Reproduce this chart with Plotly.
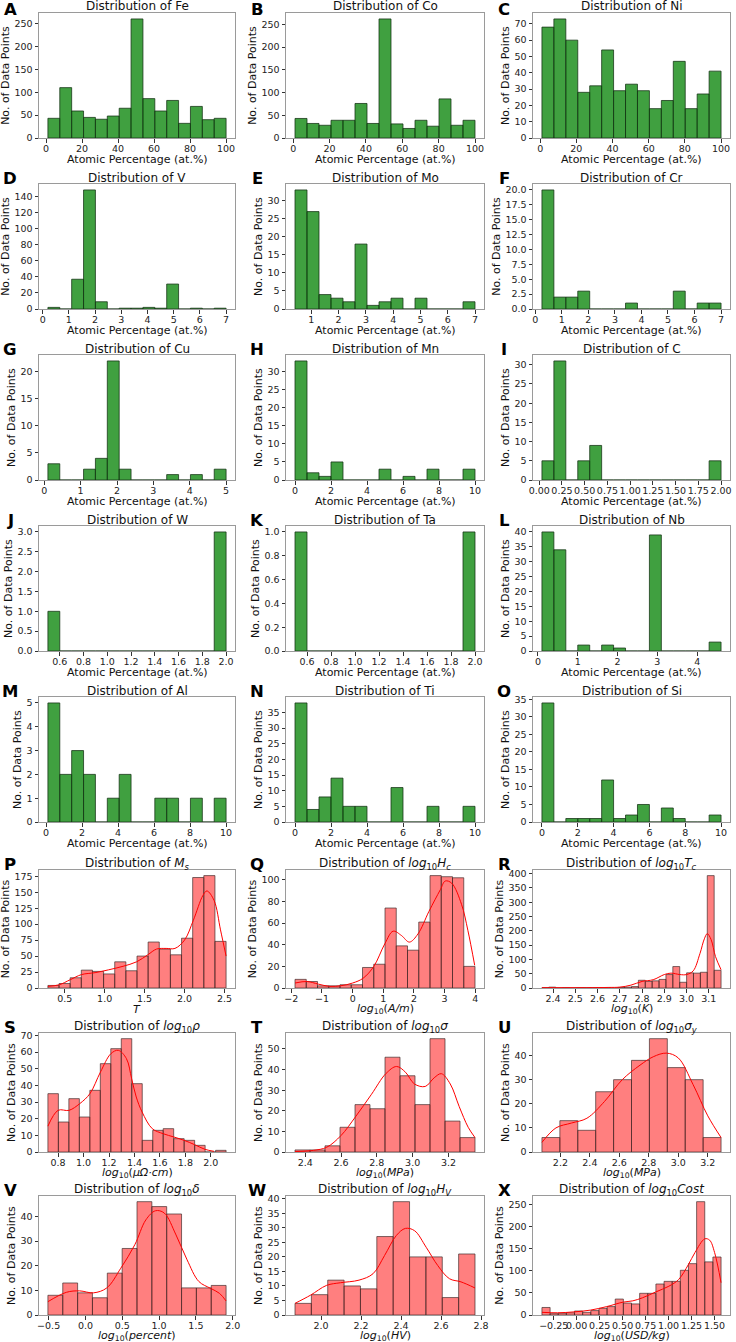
import numpy as np
import plotly.graph_objects as go

# ---------------- data ----------------
fe_counts = [43, 110, 59, 45, 41, 48, 65, 260, 86, 59, 82, 32, 69, 40, 43]
fe_range = [1, 100]
co_counts = [43, 32, 28, 39, 39, 76, 32, 262, 31, 21, 39, 26, 86, 28, 39]
co_range = [1, 100]
ni_counts = [68, 73, 60, 28, 32, 54, 29, 33, 29, 18, 23, 47, 18, 27, 41]
ni_range = [1, 100]
v_counts = [2, 0, 37, 148, 9, 0, 1, 1, 2, 1, 31, 0, 1, 0, 1]
v_range = [0.2, 7.0]
mo_counts = [33, 27, 4, 3, 2, 18, 1, 2, 3, 0, 3, 0, 0, 0, 2]
mo_range = [0.4, 7.0]
cr_counts = [20, 2, 2, 3, 0, 0, 0, 1, 0, 0, 0, 3, 0, 1, 1]
cr_range = [0.25, 7.0]
cu_counts = [3, 0, 0, 2, 4, 22, 2, 0, 0, 0, 1, 0, 1, 0, 2]
cu_range = [0.1, 5.0]
mn_counts = [33, 2, 1, 5, 0, 0, 0, 3, 0, 1, 0, 3, 0, 0, 3]
mn_range = [0.0, 10.0]
c_counts = [5, 31, 0, 5, 9, 0, 0, 0, 0, 0, 0, 0, 0, 0, 5]
c_range = [0.03, 2.0]
w_counts = [1, 0, 0, 0, 0, 0, 0, 0, 0, 0, 0, 0, 0, 0, 3]
w_range = [0.5, 2.0]
ta_counts = [1, 0, 0, 0, 0, 0, 0, 0, 0, 0, 0, 0, 0, 0, 1]
ta_range = [0.5, 2.0]
nb_counts = [40, 34, 0, 2, 0, 2, 1, 0, 0, 39, 0, 0, 0, 0, 3]
nb_range = [0.1, 4.6]
al_counts = [5, 2, 3, 2, 0, 1, 2, 0, 0, 1, 1, 0, 1, 0, 1]
al_range = [0.1, 10.0]
ti_counts = [38, 4, 8, 14, 5, 5, 0, 0, 11, 0, 0, 5, 0, 0, 5]
ti_range = [0.0, 10.0]
si_counts = [34, 0, 1, 1, 1, 12, 1, 2, 5, 0, 4, 1, 0, 0, 2]
si_range = [0.0, 10.0]

ms_counts = [4, 7, 16, 28, 26, 22, 41, 27, 50, 72, 61, 52, 78, 173, 176, 73]
ms_range = [0.29, 2.52]
ms_kde_x = [0.29, 0.43, 0.57, 0.71, 0.88, 1.05, 1.23, 1.40, 1.54, 1.65, 1.77, 1.88, 2.0, 2.11, 2.23, 2.28, 2.37, 2.45, 2.52]
ms_kde_y = [2.6, 5, 13, 21, 24, 28.5, 34, 41, 52, 61, 62, 62, 75, 106, 145, 152, 137, 91, 50]

hc_counts = [8, 6, 2, 2, 3, 3, 19, 22, 74, 39, 35, 61, 104, 103, 102, 20]
hc_range = [-1.88, 3.99]
hc_kde_x = [-1.88, -1.49, -1.12, -0.75, -0.38, 0.0, 0.34, 0.69, 1.05, 1.32, 1.59, 1.85, 2.13, 2.49, 2.86, 3.02, 3.23, 3.55, 3.76, 3.98]
hc_kde_y = [4.6, 6, 3.6, 1.5, 2.1, 4.6, 9, 20, 41, 52.6, 48.6, 42.5, 50, 71, 91, 99, 97, 77.5, 53, 21]

tc_counts = [1, 3, 0, 1, 0, 1, 1, 1, 1, 1, 0, 2, 3, 5, 27, 23, 25, 30, 47, 75, 20, 53, 52, 55, 393, 62]
tc_range = [2.35, 3.155]
tc_kde_x = [2.35, 2.45, 2.55, 2.65, 2.70, 2.75, 2.80, 2.85, 2.90, 2.93, 2.97, 3.00, 3.03, 3.06, 3.08, 3.093, 3.11, 3.13, 3.155]
tc_kde_y = [1, 1, 1, 2, 3, 10, 23, 29, 47, 52, 47, 47, 60, 120, 172, 190, 170, 110, 64]

rho_counts = [35, 18, 32, 21, 37, 53, 62, 68, 41, 7, 13, 14, 8, 7, 4, 0, 1]
rho_range = [0.72, 2.12]
rho_kde_x = [0.72, 0.80, 0.886, 0.97, 1.05, 1.133, 1.215, 1.273, 1.337, 1.378, 1.414, 1.46, 1.54, 1.625, 1.71, 1.79, 1.873, 1.954, 2.025]
rho_kde_y = [15.5, 25, 25, 29, 35, 48, 59, 61, 56, 44, 33, 24, 14, 11, 9, 7, 4.4, 1.6, 0.4]

sigma_counts = [1, 1, 3, 12, 23, 21, 46, 37, 23, 55, 15, 7]
sigma_range = [2.343, 3.348]
sigma_kde_x = [2.343, 2.446, 2.52, 2.60, 2.68, 2.77, 2.85, 2.91, 2.96, 3.01, 3.07, 3.12, 3.16, 3.21, 3.26, 3.31, 3.348]
sigma_kde_y = [0.2, 0.8, 2.3, 8, 17, 28, 38, 41.5, 38.7, 33, 31.8, 36, 38, 33, 22, 12, 7]

sigmay_counts = [6, 13, 9, 25, 30, 38, 47, 35, 30, 6]
sigmay_range = [2.075, 3.29]
sigmay_kde_x = [2.075, 2.17, 2.275, 2.38, 2.50, 2.62, 2.74, 2.83, 2.92, 3.0, 3.1, 3.2, 3.29]
sigmay_kde_y = [4, 10, 12, 14, 21, 30, 36, 39.5, 41, 39, 28, 15, 6]

delta_counts = [8, 13, 9, 7, 17, 27, 46, 44, 41, 11, 11, 12]
delta_range = [-0.51, 1.91]
delta_kde_x = [-0.51, -0.26, -0.08, 0.11, 0.29, 0.48, 0.67, 0.82, 0.95, 1.07, 1.23, 1.38, 1.54, 1.70, 1.82, 1.91]
delta_kde_y = [5.4, 9.2, 9.8, 9, 11, 19, 28.5, 38.6, 42.3, 41.4, 32.5, 22.4, 13.6, 10.8, 8.8, 5.7]

hv_counts = [4, 7, 12, 10, 9, 27, 39, 20, 20, 6, 21]
hv_range = [1.87, 2.77]
hv_kde_x = [1.87, 1.947, 2.028, 2.097, 2.19, 2.26, 2.318, 2.376, 2.422, 2.468, 2.526, 2.584, 2.642, 2.70, 2.77]
hv_kde_y = [4, 6.8, 10.2, 11.1, 12, 14.2, 20.5, 27.3, 29.8, 29, 23.3, 17, 12.5, 11.4, 9.3]

cost_counts = [17, 3, 4, 5, 9, 6, 10, 15, 19, 36, 27, 25, 49, 49, 70, 76, 76, 101, 116, 256, 120, 131]
cost_range = [-0.378, 1.571]
cost_kde_x = [-0.378, -0.207, -0.029, 0.149, 0.327, 0.504, 0.611, 0.718, 0.860, 1.003, 1.109, 1.216, 1.287, 1.394, 1.447, 1.501, 1.571]
cost_kde_y = [6, 5, 7, 11, 19, 29, 32, 39, 52, 65, 80, 114, 141, 172, 169, 141, 73]

panel_letters = list("ABCDEFGHIJKLMNOPQRSTUVWX")
elements = ["Fe", "Co", "Ni", "V", "Mo", "Cr", "Cu", "Mn", "C", "W", "Ta", "Nb", "Al", "Ti", "Si"]
prop_titles = [
    "<i>M<sub>s</sub></i>",
    "<i>log</i><sub>10</sub><i>H<sub>c</sub></i>",
    "<i>log</i><sub>10</sub><i>T<sub>c</sub></i>",
    "<i>log</i><sub>10</sub><i>ρ</i>",
    "<i>log</i><sub>10</sub><i>σ</i>",
    "<i>log</i><sub>10</sub><i>σ<sub>y</sub></i>",
    "<i>log</i><sub>10</sub><i>δ</i>",
    "<i>log</i><sub>10</sub><i>H<sub>V</sub></i>",
    "<i>log</i><sub>10</sub><i>Cost</i>",
]
prop_xlabels = [
    "<i>T</i>",
    "<i>log</i><sub>10</sub>(<i>A/m</i>)",
    "<i>log</i><sub>10</sub>(<i>K</i>)",
    "<i>log</i><sub>10</sub>(<i>μΩ·cm</i>)",
    "<i>log</i><sub>10</sub>(<i>MPa</i>)",
    "<i>log</i><sub>10</sub>(<i>MPa</i>)",
    "<i>log</i><sub>10</sub>(<i>percent</i>)",
    "<i>log</i><sub>10</sub>(<i>HV</i>)",
    "<i>log</i><sub>10</sub>(<i>USD/kg</i>)",
]
element_xlabel = "Atomic Percentage (at.%)"
ylabel = "No. of Data Points"

# ---------------- assemble ----------------
comp = [
    (fe_counts, fe_range), (co_counts, co_range), (ni_counts, ni_range),
    (v_counts, v_range), (mo_counts, mo_range), (cr_counts, cr_range),
    (cu_counts, cu_range), (mn_counts, mn_range), (c_counts, c_range),
    (w_counts, w_range), (ta_counts, ta_range), (nb_counts, nb_range),
    (al_counts, al_range), (ti_counts, ti_range), (si_counts, si_range),
]
props = [
    (ms_counts, ms_range, ms_kde_x, ms_kde_y),
    (hc_counts, hc_range, hc_kde_x, hc_kde_y),
    (tc_counts, tc_range, tc_kde_x, tc_kde_y),
    (rho_counts, rho_range, rho_kde_x, rho_kde_y),
    (sigma_counts, sigma_range, sigma_kde_x, sigma_kde_y),
    (sigmay_counts, sigmay_range, sigmay_kde_x, sigmay_kde_y),
    (delta_counts, delta_range, delta_kde_x, delta_kde_y),
    (hv_counts, hv_range, hv_kde_x, hv_kde_y),
    (cost_counts, cost_range, cost_kde_x, cost_kde_y),
]

# tick styling per panel: (x dtick, x fmt, y dtick, y fmt)
tick_spec = [
    (20, "", 50, ""), (20, "", 50, ""), (20, "", 10, ""),
    (1, "", 20, ""), (1, "", 5, ""), (1, "", 2.5, ".1f"),
    (1, "", 5, ""), (2, "", 5, ""), (0.25, ".2f", 5, ""),
    (0.2, ".1f", 0.5, ".1f"), (0.2, ".1f", 0.2, ".1f"), (1, "", 5, ""),
    (2, "", 1, ""), (2, "", 5, ""), (2, "", 5, ""),
    (0.5, ".1f", 25, ""), (1, "", 20, ""), (0.1, ".1f", 50, ""),
    (0.2, ".1f", 10, ""), (0.2, ".1f", 10, ""), (0.2, ".1f", 10, ""),
    (0.5, ".1f", 10, ""), (0.2, ".1f", 5, ""), (0.25, ".2f", 50, ""),
]

W, H = 736, 1342
cols_px = [(39, 235), (286, 484), (533, 730)]
rows_px = [(13, 138), (184, 309), (355, 480), (526, 651), (697, 822),
           (870, 988), (1033, 1152), (1196, 1315)]

FONT = "DejaVu Sans"
TICK_FS = 9.5
LABEL_FS = 11
TITLE_FS = 12
GREEN = "rgba(0,128,0,0.75)"
GREEN_EDGE = "rgba(20,50,20,0.85)"
RED = "rgba(255,0,0,0.5)"
RED_EDGE = "rgba(60,40,40,0.75)"

CHAR_W = {".": 0.318, "-": 0.838}


def label_width(txt, fs):
    return sum(CHAR_W.get(ch, 0.636) for ch in txt) * fs


def tick_strings(ymax, dt, fmt):
    out = []
    v = 0.0
    while v <= ymax + 1e-9:
        out.append(format(v, fmt) if fmt else "%g" % v)
        v += dt
    return out


fig = go.Figure()
annotations = []
for i in range(24):
    r, c = divmod(i, 3)
    ax = "" if i == 0 else str(i + 1)
    if i < 15:
        counts, rng = comp[i]
        kx = ky = None
        fill, edge = GREEN, GREEN_EDGE
        title = "Distribution of " + elements[i]
        xlab = element_xlabel
    else:
        counts, rng, kx, ky = props[i - 15]
        fill, edge = RED, RED_EDGE
        title = "Distribution of " + prop_titles[i - 15]
        xlab = prop_xlabels[i - 15]
    lo, hi = rng
    edges = np.linspace(lo, hi, len(counts) + 1)
    centers = (edges[:-1] + edges[1:]) / 2
    bw = edges[1] - edges[0]
    fig.add_trace(go.Bar(
        x=centers, y=counts, width=bw,
        marker=dict(color=fill, line=dict(color=edge, width=0.9)),
        xaxis="x" + ax, yaxis="y" + ax, showlegend=False, hoverinfo="skip"))
    if kx is not None:
        fig.add_trace(go.Scatter(
            x=kx, y=ky, mode="lines",
            line=dict(color="red", width=1, shape="spline", smoothing=1.0),
            xaxis="x" + ax, yaxis="y" + ax, showlegend=False, hoverinfo="skip"))
    x0, x1 = cols_px[c]
    y0, y1 = rows_px[r]
    pad = 0.05 * (hi - lo)
    ymax = max(max(counts), max(ky) if ky else 0) * 1.05
    xd, xf, yd, yf = tick_spec[i]
    common = dict(showline=True, mirror=True, linecolor="#9a9a9a", linewidth=1,
                  showgrid=False, zeroline=False, ticks="outside", ticklen=3.5,
                  tickwidth=1, tickcolor="#333", tickangle=0, automargin=False,
                  tickfont=dict(family=FONT, size=TICK_FS, color="#222"))
    fig.layout["xaxis" + ax] = dict(
        domain=[x0 / W, x1 / W], anchor="y" + ax, range=[lo - pad, hi + pad],
        tick0=0, dtick=xd, tickformat=xf, ticklabelstandoff=-2, **common)
    fig.layout["yaxis" + ax] = dict(
        domain=[1 - y1 / H, 1 - y0 / H], anchor="x" + ax, range=[0, ymax],
        tick0=0, dtick=yd, tickformat=yf, **common)
    # title
    annotations.append(dict(
        text=title, x=(x0 + x1) / 2 / W, y=1 - (y0 - 6.5) / H, xref="paper", yref="paper",
        xanchor="center", yanchor="middle", showarrow=False,
        font=dict(family=FONT, size=TITLE_FS, color="#111")))
    # panel letter
    letter_y = max(y0 - 5.5, 9.5)
    annotations.append(dict(
        text="<b>" + panel_letters[i] + "</b>", x=(x0 - 29) / W, y=1 - letter_y / H,
        xref="paper", yref="paper", xanchor="center", yanchor="middle", showarrow=False,
        font=dict(family=FONT, size=16.5, color="#000")))
    # x label
    annotations.append(dict(
        text=xlab, x=(x0 + x1) / 2 / W, y=1 - (y1 + 21) / H, xref="paper", yref="paper",
        xanchor="center", yanchor="middle", showarrow=False,
        font=dict(family=FONT, size=LABEL_FS, color="#111")))
    # y label, placed left of the widest tick label
    wmax = max(label_width(s, TICK_FS) for s in tick_strings(ymax, yd, yf))
    annotations.append(dict(
        text=ylabel, x=(x0 - 5.5 - wmax - 1.5) / W, y=1 - (y0 + y1) / 2 / H,
        xref="paper", yref="paper", xanchor="right", yanchor="middle",
        textangle=-90, showarrow=False,
        font=dict(family=FONT, size=LABEL_FS, color="#111")))

fig.update_layout(
    template="none",
    width=W, height=H, margin=dict(l=0, r=0, t=0, b=0, pad=0, autoexpand=False),
    plot_bgcolor="white", paper_bgcolor="white",
    barmode="overlay", bargap=0, annotations=annotations,
    font=dict(family=FONT),
)
fig.write_html(
    "out.html",
    config={"displayModeBar": False, "staticPlot": True},
    post_script="document.body.style.margin='0';document.body.style.overflow='hidden';",
)
